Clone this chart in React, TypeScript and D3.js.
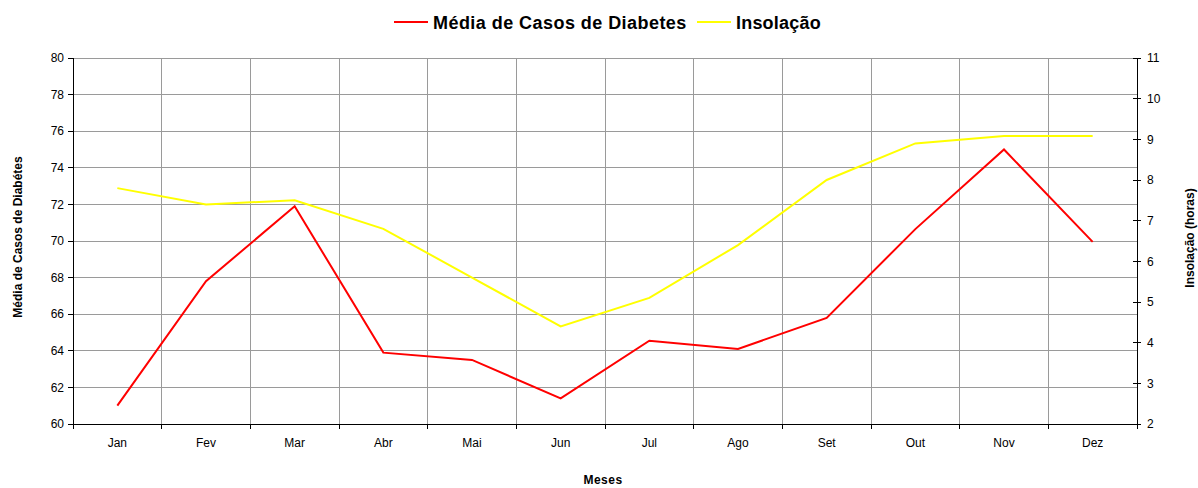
import React from "react";
import * as d3 from "d3";

const months = ["Jan", "Fev", "Mar", "Abr", "Mai", "Jun", "Jul", "Ago", "Set", "Out", "Nov", "Dez"];
const diabetes = [61.0, 67.8, 71.9, 63.9, 63.5, 61.4, 64.55, 64.1, 65.8, 70.65, 75.0, 69.95];
const insolacao = [7.8, 7.4, 7.5, 6.8, 5.6, 4.4, 5.1, 6.4, 8.0, 8.9, 9.08, 9.08];
const leftTicks = d3.range(60, 81, 2);
const rightTicks = d3.range(2, 12, 1);

const W = 1198, H = 488;
const L = 73, R = 1137, T = 58, B = 424;
const FONT = "'Liberation Sans', Arial, sans-serif";

export default function App() {
  const x = d3.scaleBand<string>().domain(months).range([L, R]).paddingInner(0).paddingOuter(0);
  const yL = d3.scaleLinear().domain([60, 80]).range([B, T]);
  const yR = d3.scaleLinear().domain([2, 11]).range([B, T]);
  const cx = (m: string) => (x(m) as number) + x.bandwidth() / 2;
  const lineL = d3.line<number>().x((_, i) => cx(months[i])).y((d) => yL(d));
  const lineR = d3.line<number>().x((_, i) => cx(months[i])).y((d) => yR(d));
  const bounds = months.map((m) => x(m) as number).concat([R]);

  return (
    <svg width={W} height={H} style={{ position: "absolute", left: 0, top: 0 }} fontFamily={FONT}>
      <rect x={0} y={0} width={W} height={H} fill="#fff" />
      {leftTicks.map((t) => (
        <line key={"h" + t} x1={L} x2={R} y1={yL(t)} y2={yL(t)} stroke="#9a9a9a" strokeWidth={1} shapeRendering="crispEdges" />
      ))}
      {bounds.slice(1, -1).map((b, i) => (
        <line key={"v" + i} x1={b} x2={b} y1={T} y2={B} stroke="#9a9a9a" strokeWidth={1} shapeRendering="crispEdges" />
      ))}
      <path d={lineR(insolacao) as string} fill="none" stroke="#ffff00" strokeWidth={2} />
      <path d={lineL(diabetes) as string} fill="none" stroke="#ff0000" strokeWidth={2} />
      <line x1={L} x2={L} y1={T} y2={B} stroke="#000" shapeRendering="crispEdges" />
      {leftTicks.map((t) => (
        <g key={"lt" + t}>
          <line x1={L - 5} x2={L} y1={yL(t)} y2={yL(t)} stroke="#000" shapeRendering="crispEdges" />
          <text x={L - 9} y={yL(t)} dy="0.35em" textAnchor="end" fontSize={12}>{t}</text>
        </g>
      ))}
      <line x1={R} x2={R} y1={T} y2={B} stroke="#000" shapeRendering="crispEdges" />
      {rightTicks.map((t) => (
        <g key={"rt" + t}>
          <line x1={R - 4} x2={R + 4} y1={yR(t)} y2={yR(t)} stroke="#000" shapeRendering="crispEdges" />
          <text x={R + 10} y={yR(t)} dy="0.35em" textAnchor="start" fontSize={12}>{t}</text>
        </g>
      ))}
      <line x1={L} x2={R} y1={B} y2={B} stroke="#000" shapeRendering="crispEdges" />
      {bounds.map((b, i) => (
        <line key={"bt" + i} x1={b} x2={b} y1={B} y2={B + 5} stroke="#000" shapeRendering="crispEdges" />
      ))}
      {months.map((m) => (
        <text key={"m" + m} x={cx(m)} y={B + 23} textAnchor="middle" fontSize={12}>{m}</text>
      ))}
      <text x={603} y={484} textAnchor="middle" fontSize={12} fontWeight="bold" letterSpacing={0.5}>Meses</text>
      <text transform={`translate(22,${(T + B) / 2 - 4}) rotate(-90)`} textAnchor="middle" fontSize={12} fontWeight="bold">Média de Casos de Diabétes</text>
      <text transform={`translate(1194,${(T + B) / 2 - 3}) rotate(-90)`} textAnchor="middle" fontSize={12} fontWeight="bold">Insolação (horas)</text>
      <line x1={394} x2={428} y1={22} y2={22} stroke="#ff0000" strokeWidth={2} />
      <text x={433} y={29} fontSize={18} fontWeight="bold" letterSpacing={0.45}>Média de Casos de Diabetes</text>
      <line x1={697} x2={731} y1={22} y2={22} stroke="#ffff00" strokeWidth={2} />
      <text x={736} y={29} fontSize={18} fontWeight="bold" letterSpacing={0.2}>Insolação</text>
    </svg>
  );
}
